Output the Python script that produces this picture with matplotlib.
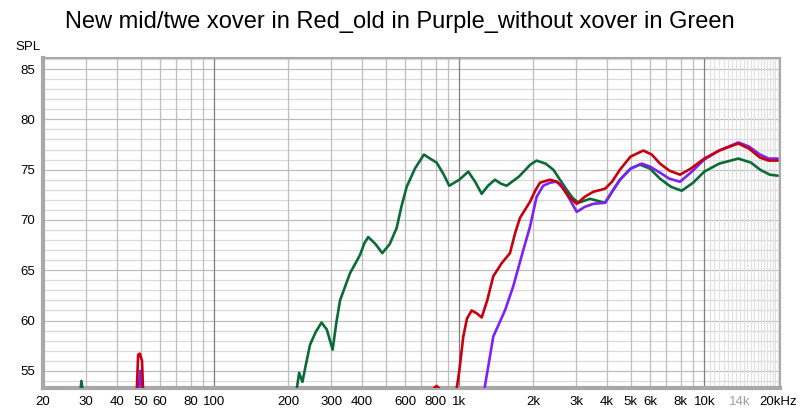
import numpy as np
import matplotlib
matplotlib.use("Agg")
import matplotlib.pyplot as plt

plt.rcParams['font.family'] = ['Liberation Sans', 'DejaVu Sans']

# Datos (frecuencia en Hz, nivel en dB SPL)
green_f = [20, 28.3, 28.7, 29.2, 215, 222, 229, 236, 246, 260, 274, 288, 304, 315, 326, 358,
           393, 410, 425, 455, 485, 520, 555, 580, 610, 659, 717, 760, 808, 860, 910, 1000,
           1088, 1160, 1234, 1310, 1398, 1480, 1560, 1750, 1950, 2068, 2250, 2418, 2742,
           2900, 3058, 3415, 3932, 4200, 4526, 5000, 5462, 6000, 6592, 7300, 8084, 9000,
           9994, 11500, 13762, 15500, 16872, 18500, 19920]
green_db = [50, 52.5, 54.0, 52.5, 52.5, 54.8, 53.9, 55.5, 57.6, 58.9, 59.8, 59.1, 57.1, 59.8, 62.0, 64.7,
            66.5, 67.7, 68.3, 67.6, 66.7, 67.6, 69.2, 71.3, 73.3, 75.1, 76.5, 76.1, 75.7, 74.6, 73.4, 74.0,
            74.8, 73.8, 72.6, 73.4, 74.0, 73.6, 73.4, 74.3, 75.5, 75.9, 75.6, 75.0, 73.0,
            72.2, 71.7, 72.1, 71.7, 72.8, 74.0, 75.1, 75.5, 75.1, 74.1, 73.3, 72.9, 73.7,
            74.8, 75.6, 76.1, 75.7, 75.0, 74.5, 74.4]

red_f = [20, 48.2, 48.9, 49.7, 50.7, 51.3, 771, 790, 808, 830, 858, 966, 1000, 1038, 1075,
         1123, 1180, 1234, 1300, 1376, 1489, 1610, 1690, 1768, 1942, 2050, 2134, 2344, 2500,
         2616, 2800, 3014, 3250, 3522, 3932, 4200, 4526, 5000, 5636, 6100, 6592, 7200,
         7956, 8800, 9994, 11500, 13762, 15200, 16872, 18300, 19920]
red_db = [50, 52.5, 56.6, 56.7, 56.0, 52.5, 52.5, 53.3, 53.5, 53.2, 52.5, 52.5, 55.0, 58.4, 60.2,
          61.0, 60.7, 60.3, 62.0, 64.4, 65.7, 66.7, 68.7, 70.2, 71.8, 73.0, 73.7, 74.0, 73.8,
          73.3, 72.3, 71.6, 72.3, 72.8, 73.1, 73.8, 75.0, 76.3, 76.9, 76.5, 75.6, 74.9,
          74.5, 75.1, 76.1, 76.9, 77.6, 77.1, 76.2, 75.9, 75.9]

purple_f = [20, 48.8, 49.9, 51.0, 1252, 1310, 1376, 1536, 1660, 1824, 1942, 2068, 2200,
            2344, 2480, 2616, 2800, 3014, 3250, 3522, 3932, 4200, 4526, 5000, 5550, 6000,
            6592, 7200, 7956, 8800, 9994, 11500, 13762, 15200, 16872, 18300, 19920]
purple_db = [50, 52.5, 55.0, 52.5, 52.5, 55.3, 58.4, 61.0, 63.4, 67.0, 69.3, 72.3, 73.4,
             73.7, 73.8, 73.5, 72.2, 70.8, 71.3, 71.6, 71.7, 72.8, 74.0, 75.1, 75.6, 75.3,
             74.7, 74.1, 73.8, 74.7, 76.0, 76.9, 77.7, 77.3, 76.5, 76.1, 76.1]

xticks = [20, 30, 40, 50, 60, 80, 100, 200, 300, 400, 600, 800, 1000, 2000, 3000,
          4000, 5000, 6000, 8000, 10000, 14000, 20000]
xlabels = ['20', '30', '40', '50', '60', '80', '100', '200', '300', '400', '600', '800',
           '1k', '2k', '3k', '4k', '5k', '6k', '8k', '10k', '14k', '20kHz']
yticks = [55, 60, 65, 70, 75, 80, 85]

fig = plt.figure(figsize=(8, 4.12), dpi=100)
ax = fig.add_axes([43 / 800, 1 - 388 / 412, (780 - 43) / 800, (388 - 58) / 412])
ax.set_xscale('log')
ax.set_xlim(20, 20360)
ax.set_ylim(53.29, 86.1)

# Rejilla
for v in range(54, 87):
    c = '#bdbdbd' if v % 5 == 0 else '#d9d9d9'
    ax.axhline(v, color=c, lw=0.9, zorder=0)
for dec in [10, 100, 1000]:
    for m in range(2, 10):
        f = dec * m
        if f >= 20:
            ax.axvline(f, color='#bdbdbd', lw=0.9, zorder=0)
for f in [100, 1000, 10000]:
    ax.axvline(f, color='#7f7f7f', lw=0.9, zorder=0)
for f in np.arange(10500, 20500, 500):
    ax.axvline(f, color='#e2e2e2', lw=0.9, zorder=0)

# Curvas
kw = dict(lw=1.9, solid_joinstyle='round', solid_capstyle='round')
ax.plot(green_f, green_db, color='#0b6b37', zorder=3, **kw)
ax.plot(purple_f, purple_db, color='#7b22f5', zorder=4, **kw)
ax.plot(red_f, red_db, color='#c8000c', zorder=5, **kw)

ax.set_xticks(xticks)
ax.set_xticklabels(xlabels)
ax.xaxis.set_minor_locator(matplotlib.ticker.NullLocator())
ax.set_yticks(yticks)
ax.tick_params(length=0, labelsize=9.5, pad=6)
ax.get_xticklabels()[20].set_color('#a0a0a0')

for s in ax.spines.values():
    s.set_color('#a8a8a8')
    s.set_linewidth(1.5)
ax.spines['left'].set_linewidth(3)
ax.spines['bottom'].set_linewidth(3)

fig.text(28 / 800, 1 - 47 / 412, 'SPL', ha='center', va='center', fontsize=9.5)
fig.suptitle('New mid/twe xover in Red_old in Purple_without xover in Green',
             y=1 - 22 / 412, va='center', fontsize=17)

fig.savefig('out.png', dpi=100)
